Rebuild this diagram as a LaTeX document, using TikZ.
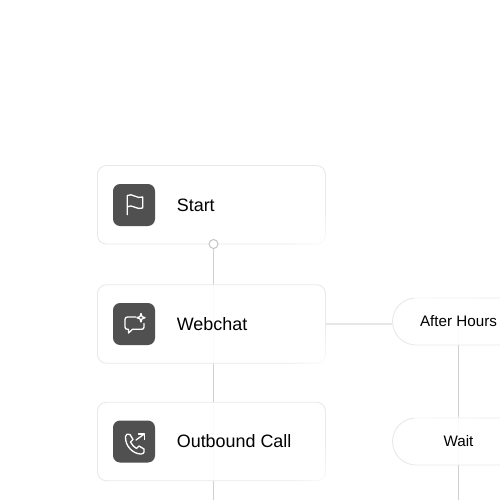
\documentclass[tikz,border=0pt]{standalone}
\usepackage{fontspec}
\setmainfont{Liberation Sans}
\usepackage{xcolor}
\definecolor{flowborder}{RGB}{232,232,232}
\definecolor{flowline}{RGB}{208,208,208}
\definecolor{flowlink}{RGB}{230,230,230}
\definecolor{flowdot}{RGB}{196,196,196}
\definecolor{flowicon}{RGB}{80,80,80}
\usepackage{tikz}
\usetikzlibrary{arrows.meta, positioning, backgrounds, fadings}
\tikzfading[name=cornerfade, inner color=transparent!12, outer color=transparent!100]
\tikzset{
  cardbox/.style={draw=flowborder, fill=white, fill opacity=0.9, rounded corners=5pt, line width=0.5pt, minimum width=4.56cm, minimum height=1.57cm, inner sep=0pt},
  iconbox/.style={fill=flowicon, rounded corners=4pt, minimum width=0.84cm, minimum height=0.84cm, inner sep=0pt},
  cardtext/.style={font=\fontsize{10.2}{12}\selectfont, anchor=west, inner sep=0pt},
  pillbox/.style={draw=flowborder, fill=white, fill opacity=0.9, text opacity=1, rounded corners=0.47cm, line width=0.5pt, minimum width=2.64cm, minimum height=0.94cm, inner sep=0pt, font=\fontsize{8.65}{10}\selectfont},
  iconline/.style={draw=white, line width=0.75pt, line cap=round, line join=round},
  flowedge/.style={draw=flowline, line width=0.7pt},
  cardfade/.style={white, path fading=cornerfade}
}
\begin{document}
\begin{tikzpicture}[x=0.2mm, y=-0.2mm]
  \useasboundingbox (0,0) rectangle (500,500);
  \clip (0,0) rectangle (500,500);

  \node[cardbox] (startcard) at (211.5,204.8) {};
  \node[cardbox] (webcard)   at (211.5,324)   {};
  \node[cardbox] (callcard)  at (211.5,441.5) {};

  % soften the lower right corners
  \fill[cardfade, shift={(startcard.south east)}] (-40,-40) rectangle (40,40);
  \fill[cardfade, shift={(webcard.south east)}]   (-40,-40) rectangle (40,40);
  \fill[cardfade, shift={(callcard.south east)}]  (-40,-40) rectangle (40,40);

  \node[iconbox] (starticon) at (134,205)   {};
  \node[iconbox] (webicon)   at (134,324)   {};
  \node[iconbox] (callicon)  at (134,441.5) {};

  \node[cardtext] (starttext) at (176.5,205)   {Start};
  \node[cardtext] (webtext)   at (176.5,324)   {Webchat};
  \node[cardtext] (calltext)  at (176.5,441.5) {Outbound Call};

  \node[pillbox] (hourspill) at (458.5,321.5) {After Hours};
  \node[pillbox] (waitpill)  at (458.5,441.5) {Wait};

  % soften the pill tops
  \fill[white, opacity=0.65, path fading=east, shift={(hourspill.north)}] (-45,-2) rectangle (45,2);
  \fill[white, opacity=0.65, path fading=east, shift={(waitpill.north)}]  (-45,-2) rectangle (45,2);

  \node[circle, draw=flowdot, fill=white, line width=0.55pt, minimum size=0.18cm, inner sep=0pt] (startdot) at (213.5,244) {};
  \coordinate (callend) at (213.5,500);
  \coordinate (waitend) at (458.5,500);

  \begin{scope}[on background layer]
    \draw[flowedge] (startdot) -- (callend);
    \draw[flowedge] (hourspill.center) -- (waitpill.center);
    \draw[flowedge] (waitpill.center) -- (waitend);
    \draw[draw=flowlink, line width=0.95pt] (webcard.east) -- (hourspill.west |- webcard.east);
  \end{scope}

  % flag
  \draw[iconline] (127.3,214.7) -- (127.3,195.5) .. controls (132,192.5) and (137,199.5) .. (142.7,197) -- (142.7,208) .. controls (137,210.5) and (132,203.5) .. (127.3,206.8);
  % chat bubble
  \draw[iconline] (136,317) -- (127.5,317) .. controls (126,317) and (125,318) .. (125,319.5) -- (125,327) .. controls (125,328.5) and (126,329.3) .. (127.5,329.3) -- (128.5,329.3) -- (128.5,333) -- (132.5,329.3) -- (141.5,329.3) .. controls (143,329.3) and (144,328.5) .. (144,327) -- (144,323.5);
  \draw[iconline] (141,313.5) .. controls (141.3,316.5) and (142,317.3) .. (145,317.7) .. controls (142,318.1) and (141.3,319) .. (141,322) .. controls (140.7,319) and (140,318.1) .. (137,317.7) .. controls (140,317.3) and (140.7,316.5) .. (141,313.5) -- cycle;
  % phone
  \draw[iconline] (125.5,436.5) .. controls (125,446) and (133,454) .. (141,454) .. controls (144,454) and (145,451) .. (144,449) -- (139,446) -- (136.5,448.5) .. controls (134,447) and (132,445) .. (130.5,442) -- (133,439.5) -- (130,434.5) .. controls (128,433.5) and (125.7,434) .. (125.5,436.5) -- cycle;
  \draw[iconline] (136,440) -- (144.3,434);
  \draw[iconline] (138.5,434) -- (144.3,434) -- (144.3,439.5);
\end{tikzpicture}
\end{document}
